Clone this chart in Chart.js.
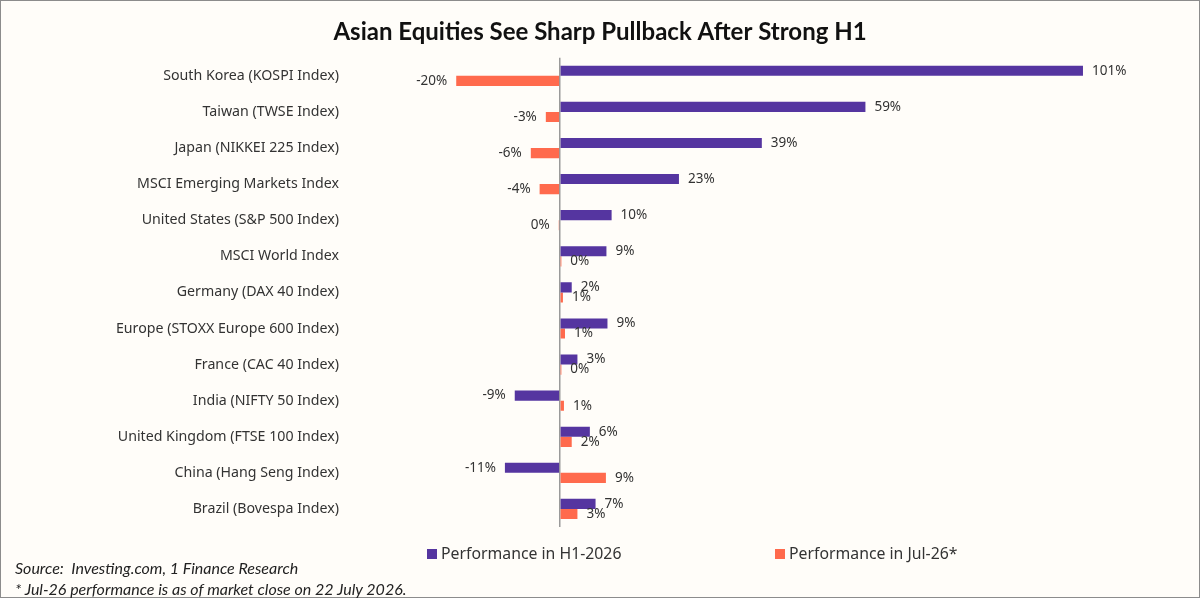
<!DOCTYPE html>
<html>
<head>
<meta charset="utf-8">
<script src="https://cdn.jsdelivr.net/npm/chart.js@4.4.1/dist/chart.umd.min.js"></script>
<style>
  html, body { margin: 0; padding: 0; background: #fffdf9; }
  #wrap { position: relative; width: 1198px; height: 596px; border: 1px solid #8c8c8c; background: #fffdf9; }
  #chart { position: absolute; left: 0; top: 0; }
  .leg { position: absolute; top: 542px; font: 15.8px/20px "Noto Sans", sans-serif; color: #333; white-space: nowrap; }
  .leg i { display: inline-block; width: 10px; height: 10px; margin-right: 4px; vertical-align: 0px; }
  .foot { position: absolute; left: 14px; font: italic 16px/20px Lato, sans-serif; color: #222; white-space: nowrap; }
</style>
</head>
<body>
<div id="wrap">
  <canvas id="chart" width="1198" height="596"></canvas>
  <div class="leg" style="left:426px"><i style="background:#5535a0"></i>Performance in H1-2026</div>
  <div class="leg" style="left:774px"><i style="background:#ff6a4d"></i>Performance in Jul-26*</div>
  <div class="foot" style="top:557px">Source:&nbsp; Investing.com, 1 Finance Research</div>
  <div class="foot" style="top:578px">* Jul-26 performance is as of market close on 22 July 2026.</div>
</div>
<script>
// Categories, top to bottom
const markets = [
  "South Korea (KOSPI Index)",
  "Taiwan (TWSE Index)",
  "Japan (NIKKEI 225 Index)",
  "MSCI Emerging Markets Index",
  "United States (S&P 500 Index)",
  "MSCI World Index",
  "Germany (DAX 40 Index)",
  "Europe (STOXX Europe 600 Index)",
  "France (CAC 40 Index)",
  "India (NIFTY 50 Index)",
  "United Kingdom (FTSE 100 Index)",
  "China (Hang Seng Index)",
  "Brazil (Bovespa Index)",
];

// Returns in %
const h1Perf = [101, 59, 39, 23, 10, 9, 2.3, 9.2, 3.4, -8.7, 5.8, -10.6, 6.9];
const julPerf = [-20, -2.7, -5.6, -3.9, -0.2, 0.3, 0.6, 1, 0.3, 0.8, 2.3, 8.9, 3.4];

const seriesNames = ["Performance in H1-2026", "Performance in Jul-26*"];
const seriesColors = ["#5535a0", "#ff6a4d"];

// Draws the % value next to the end of each bar
const valueLabels = {
  id: "valueLabels",
  afterDatasetsDraw(chart) {
    const ctx = chart.ctx;
    ctx.save();
    ctx.font = '13.5px "Noto Sans", sans-serif';
    ctx.fillStyle = "#333";
    ctx.textBaseline = "middle";
    chart.data.datasets.forEach((ds, i) => {
      chart.getDatasetMeta(i).data.forEach((bar, j) => {
        const v = ds.data[j];
        const txt = Math.round(v) + "%";
        if (v < 0) {
          ctx.textAlign = "right";
          ctx.fillText(txt, bar.x - 9, bar.y);
        } else {
          ctx.textAlign = "left";
          ctx.fillText(txt, bar.x + 9, bar.y);
        }
      });
    });
    ctx.restore();
  },
};

new Chart(document.getElementById("chart"), {
  type: "bar",
  plugins: [valueLabels],
  data: {
    labels: markets,
    datasets: [
      { label: seriesNames[0], data: h1Perf, backgroundColor: seriesColors[0] },
      { label: seriesNames[1], data: julPerf, backgroundColor: seriesColors[1] },
    ],
  },
  options: {
    indexAxis: "y",
    responsive: false,
    animation: false,
    devicePixelRatio: 1,
    layout: { padding: { left: 0, right: 0, bottom: 70, top: 0 } },
    datasets: { bar: { categoryPercentage: 0.56, barPercentage: 1 } },
    scales: {
      x: {
        min: -40.7,
        max: 123.4,
        ticks: { display: false, stepSize: 10 },
        border: { display: false },
        grid: {
          drawTicks: false,
          lineWidth: 1.5,
          color: (c) => (c.tick && c.tick.value === 0 ? "#9a9a9a" : "transparent"),
        },
      },
      y: {
        afterFit: (s) => { s.width = 348; },
        border: { display: false },
        grid: { display: false, drawTicks: false },
        ticks: {
          padding: 10,
          color: "#333",
          font: { family: "Noto Sans", size: 14.2 },
        },
      },
    },
    plugins: {
      legend: { display: false },
      tooltip: { enabled: false },
      title: {
        display: true,
        text: "Asian Equities See Sharp Pullback After Strong H1",
        color: "#111",
        font: { family: "Lato", size: 24, weight: "bold" },
        padding: { top: 17, bottom: 11 },
      },
    },
  },
});
</script>
</body>
</html>
